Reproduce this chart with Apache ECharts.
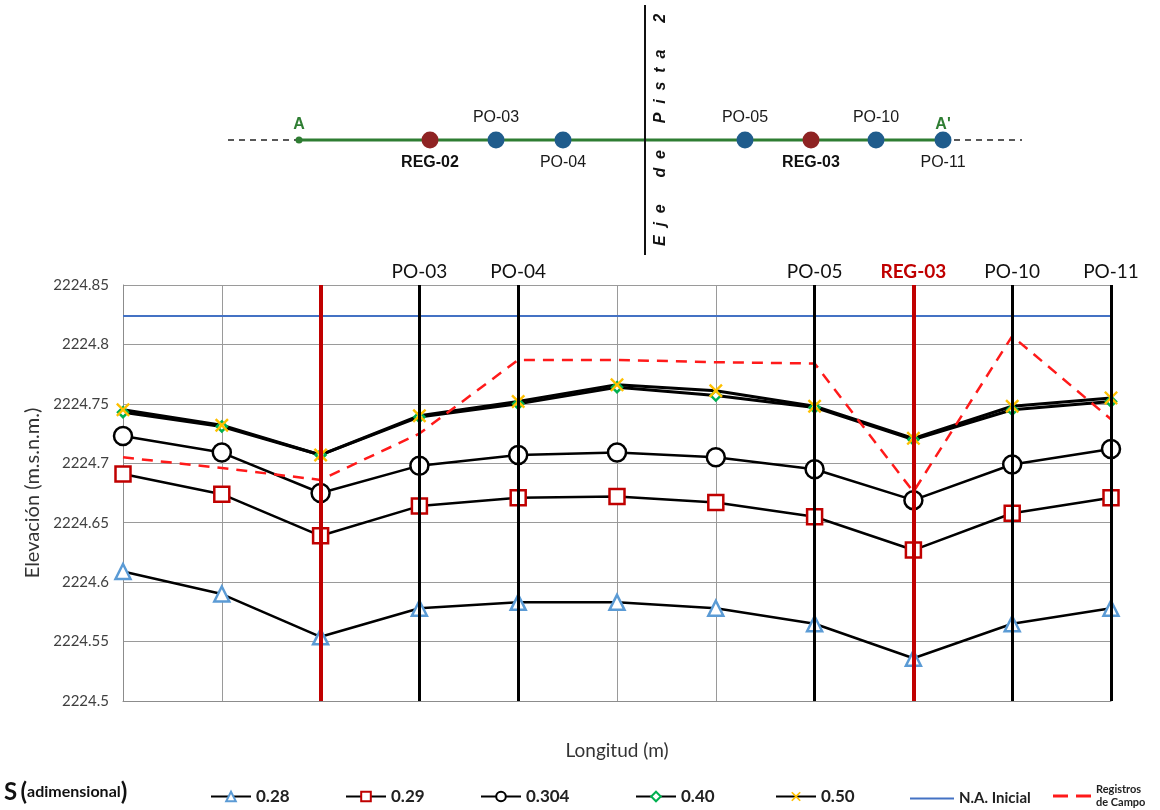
<!DOCTYPE html>
<html><head><meta charset="utf-8">
<script src="https://cdn.jsdelivr.net/npm/echarts@6/dist/echarts.min.js"></script>
<style>html,body{margin:0;padding:0;background:#fff}#c{width:1160px;height:810px}</style>
</head><body><div id="c"></div>
<script>
// ---- Main chart data ----
const longitud = [0, 1, 2, 3, 4, 5, 6, 7, 8, 9, 10];
const s028 = [2224.609, 2224.590, 2224.554, 2224.578, 2224.583, 2224.583, 2224.578, 2224.565, 2224.536, 2224.565, 2224.578];
const s029 = [2224.691, 2224.674, 2224.639, 2224.664, 2224.671, 2224.672, 2224.667, 2224.655, 2224.627, 2224.658, 2224.671];
const s0304 = [2224.723, 2224.709, 2224.675, 2224.698, 2224.707, 2224.709, 2224.705, 2224.695, 2224.669, 2224.699, 2224.712];
const s040 = [2224.743, 2224.731, 2224.707, 2224.739, 2224.750, 2224.764, 2224.757, 2224.747, 2224.720, 2224.745, 2224.752];
const s050 = [2224.745, 2224.732, 2224.707, 2224.740, 2224.752, 2224.766, 2224.761, 2224.748, 2224.721, 2224.748, 2224.755];
const naInicial = [2224.824, 2224.824, 2224.824, 2224.824, 2224.824, 2224.824, 2224.824, 2224.824, 2224.824, 2224.824, 2224.824];
const registros = [2224.705, 2224.696, 2224.686, 2224.725, 2224.787, 2224.787, 2224.785, 2224.784, 2224.676, 2224.807, 2224.737];
const markerPos = [2, 3, 4, 7, 8, 9, 10];
const markerLabels = ['', 'PO-03', 'PO-04', 'PO-05', 'REG-03', 'PO-10', 'PO-11'];
const markerIsReg = [true, false, false, false, true, false, false];
const seriesNames = ['0.28', '0.29', '0.304', '0.40', '0.50', 'N.A. Inicial', 'Registros de Campo'];

// ---- Plan (schematic) data ----
const planNames = ['A', 'REG-02', 'PO-03', 'PO-04', 'PO-05', 'REG-03', 'PO-10', "A'", 'PO-11'];
const planPos = [-346, -215, -149, -82, 100, 166, 231, 298, 298];
const planKind = ['end', 'reg', 'po', 'po', 'po', 'reg', 'po', 'end', 'po'];
const planLabelSide = ['top', 'bottom', 'top', 'bottom', 'top', 'bottom', 'top', 'top', 'bottom'];
const planExtent = [-417, 377];

const pair = arr => longitud.map((x, i) => [x, arr[i]]);
const xSym = 'path://M0,1.2L1.2,0L5,3.8L8.8,0L10,1.2L6.2,5L10,8.8L8.8,10L5,6.2L1.2,10L0,8.8L3.8,5Z';
const FONT = 'Lato';

const chart = echarts.init(document.getElementById('c'), null, {renderer: 'canvas'});

const kindStyle = {
  end: {size: 7, color: '#2E7D32', font: {color: '#2E7D32', fontWeight: 'bold', fontSize: 16, fontFamily: 'Liberation Sans'}},
  reg: {size: 17, color: '#8E2323', font: {color: '#111', fontWeight: 'bold', fontSize: 16, fontFamily: 'Liberation Sans'}},
  po: {size: 17, color: '#1F5C8C', font: {color: '#1a1a1a', fontWeight: 'normal', fontSize: 16, fontFamily: 'Liberation Sans'}}
};
const planData = planNames.map((n, i) => {
  const k = kindStyle[planKind[i]];
  return {
    name: n, value: [planPos[i], 0], symbolSize: k.size,
    itemStyle: {color: k.color, opacity: 1},
    label: Object.assign({show: true, position: planLabelSide[i], distance: planKind[i] === 'end' ? 4 : 6,
      formatter: n, opacity: 1, textBorderWidth: 0}, k.font)
  };
});

const lineBase = (name, arr, sym, size, fill, border, width) => ({
  name, type: 'line', data: pair(arr), xAxisIndex: 0, yAxisIndex: 0,
  symbol: sym, symbolSize: size, showAllSymbol: true,
  lineStyle: {color: '#000', width: width || 2.5},
  itemStyle: {color: fill, borderColor: border, borderWidth: border ? 2.5 : 0},
  emphasis: {disabled: true}, z: 3
});

const legendLefts = [205, 340, 475, 630, 770, 905, 1048];
const legendIcons = [null, null, null, null, null, 'rect', 'path://M0,0H15V3H0Z M23,0H38V3H23Z'];

const option = {
  animation: false,
  grid: [
    {left: 123, right: 49, top: 285, bottom: 109},
    {left: 228, right: 138, top: 5, height: 250}
  ],
  xAxis: [
    {type: 'value', gridIndex: 0, min: 0, max: 10, interval: 1,
     name: 'Longitud (m)', nameLocation: 'middle', nameGap: 40,
     nameTextStyle: {fontSize: 19, color: '#333', fontFamily: FONT},
     axisLabel: {show: false}, axisTick: {show: false},
     axisLine: {show: true, lineStyle: {color: '#8c8c8c', width: 1}},
     splitLine: {show: true, lineStyle: {color: '#9a9a9a', width: 1}}},
    {type: 'value', gridIndex: 1, min: planExtent[0], max: planExtent[1], show: false}
  ],
  yAxis: [
    {type: 'value', gridIndex: 0, min: 2224.5, max: 2224.85, interval: 0.05,
     name: 'Elevación (m.s.n.m.)', nameLocation: 'middle', nameGap: 80,
     nameTextStyle: {fontSize: 20, color: '#333', fontFamily: FONT},
     axisLabel: {fontSize: 15, color: '#404040', fontFamily: FONT, margin: 14,
       formatter: v => String(+v.toFixed(2))},
     axisTick: {show: false},
     axisLine: {show: true, lineStyle: {color: '#8c8c8c', width: 1}},
     splitLine: {show: true, lineStyle: {color: '#9a9a9a', width: 1}}},
    {type: 'value', gridIndex: 1, min: -115, max: 135, show: false}
  ],
  legend: seriesNames.map((n, i) => {
    const L = {
      data: [legendIcons[i] ? {name: n, icon: legendIcons[i]} : n],
      left: legendLefts[i], top: i === 6 ? 777 : 783,
      itemWidth: legendIcons[i] ? (i === 5 ? 44 : 38) : 40,
      itemHeight: legendIcons[i] ? (i === 5 ? 2 : 3) : 12,
      itemGap: 0, selectedMode: false,
      textStyle: i === 6
        ? {fontFamily: FONT, fontWeight: 'bold', fontSize: 11, color: '#222', lineHeight: 13,
           rich: {a: {fontFamily: FONT, fontWeight: 'bold', fontSize: 11, color: '#222', lineHeight: 13}}}
        : {fontFamily: FONT, fontWeight: 'bold', fontSize: i === 5 ? 15 : 17, color: '#222'}
    };
    if (i === 6) { L.formatter = () => '{a|Registros}\n{a|de Campo}'; L.top = 778; }
    if (i === 5) { L.top = 786; }
    return L;
  }),
  graphic: [
    {type: 'text', left: 4, top: 780, style: {
      text: '{s|S} {p|(}{a|adimensional}{p|)}',
      rich: {
        s: {fontSize: 24, fontWeight: 'bold', fontFamily: FONT, fill: '#111'},
        p: {fontSize: 24, fontWeight: 'bold', fontFamily: FONT, fill: '#111'},
        a: {fontSize: 16, fontWeight: 'bold', fontFamily: FONT, fill: '#111'}
      }}},
    {type: 'text', x: 661, y: 130, rotation: Math.PI / 2, style: {
      text: 'E  j  e      d  e      P  i  s  t  a      2',
      fontSize: 16, fontWeight: 'bold', fontStyle: 'italic', fontFamily: 'Liberation Sans',
      fill: '#111', align: 'center', verticalAlign: 'middle'}}
  ],
  series: [
    lineBase('0.28', s028, 'triangle', 15, '#fff', '#5B9BD5'),
    lineBase('0.29', s029, 'rect', 15, '#fff', '#C00000'),
    lineBase('0.304', s0304, 'circle', 18, '#fff', '#000'),
    lineBase('0.40', s040, 'diamond', 10, '#fff', '#00B050', 3),
    lineBase('0.50', s050, xSym, 14, '#FFC000', null, 3),
    {name: 'N.A. Inicial', type: 'line', data: pair(naInicial), symbol: 'none',
     lineStyle: {color: '#4472C4', width: 2}, itemStyle: {color: '#4472C4'}, z: 2},
    {name: 'Registros de Campo', type: 'line', data: pair(registros), symbol: 'none',
     lineStyle: {color: '#FF1A1A', width: 2.5, type: [11, 8]}, itemStyle: {color: '#FF1A1A'}, z: 4},
    {name: 'marcadores', type: 'line', data: [], z: 6, silent: true,
     markLine: {silent: true, symbol: ['none', 'none'], animation: false,
       data: markerPos.map((x, i) => ({
         xAxis: x,
         lineStyle: {color: markerIsReg[i] ? '#C00000' : '#000', width: markerIsReg[i] ? 4 : 3, type: 'solid'},
         label: {show: !!markerLabels[i], position: 'end', distance: 4, formatter: markerLabels[i],
           fontFamily: FONT, fontSize: 19, color: markerIsReg[i] ? '#C00000' : '#111',
           fontWeight: markerIsReg[i] ? 'bold' : 'normal'}
       }))}},
    // ---- schematic ----
    {type: 'line', xAxisIndex: 1, yAxisIndex: 1, data: [[planExtent[0], 0], [planPos[0], 0]], symbol: 'none',
     lineStyle: {color: '#222', width: 1.5, type: [6, 5]}, silent: true},
    {type: 'line', xAxisIndex: 1, yAxisIndex: 1, data: [[planPos[7], 0], [planExtent[1], 0]], symbol: 'none',
     lineStyle: {color: '#222', width: 1.5, type: [6, 5]}, silent: true},
    {type: 'line', xAxisIndex: 1, yAxisIndex: 1, data: [[planPos[0], 0], [planPos[7], 0]], symbol: 'none',
     lineStyle: {color: '#2E7D32', width: 3}, silent: true, z: 3,
     markLine: {silent: true, symbol: ['none', 'none'], label: {show: false},
       lineStyle: {color: '#111', width: 2, type: 'solid'}, data: [{xAxis: 0}]}},
    {type: 'scatter', xAxisIndex: 1, yAxisIndex: 1, data: planData, silent: true, z: 4,
     itemStyle: {opacity: 1}}
  ]
};
chart.setOption(option);
</script></body></html>
